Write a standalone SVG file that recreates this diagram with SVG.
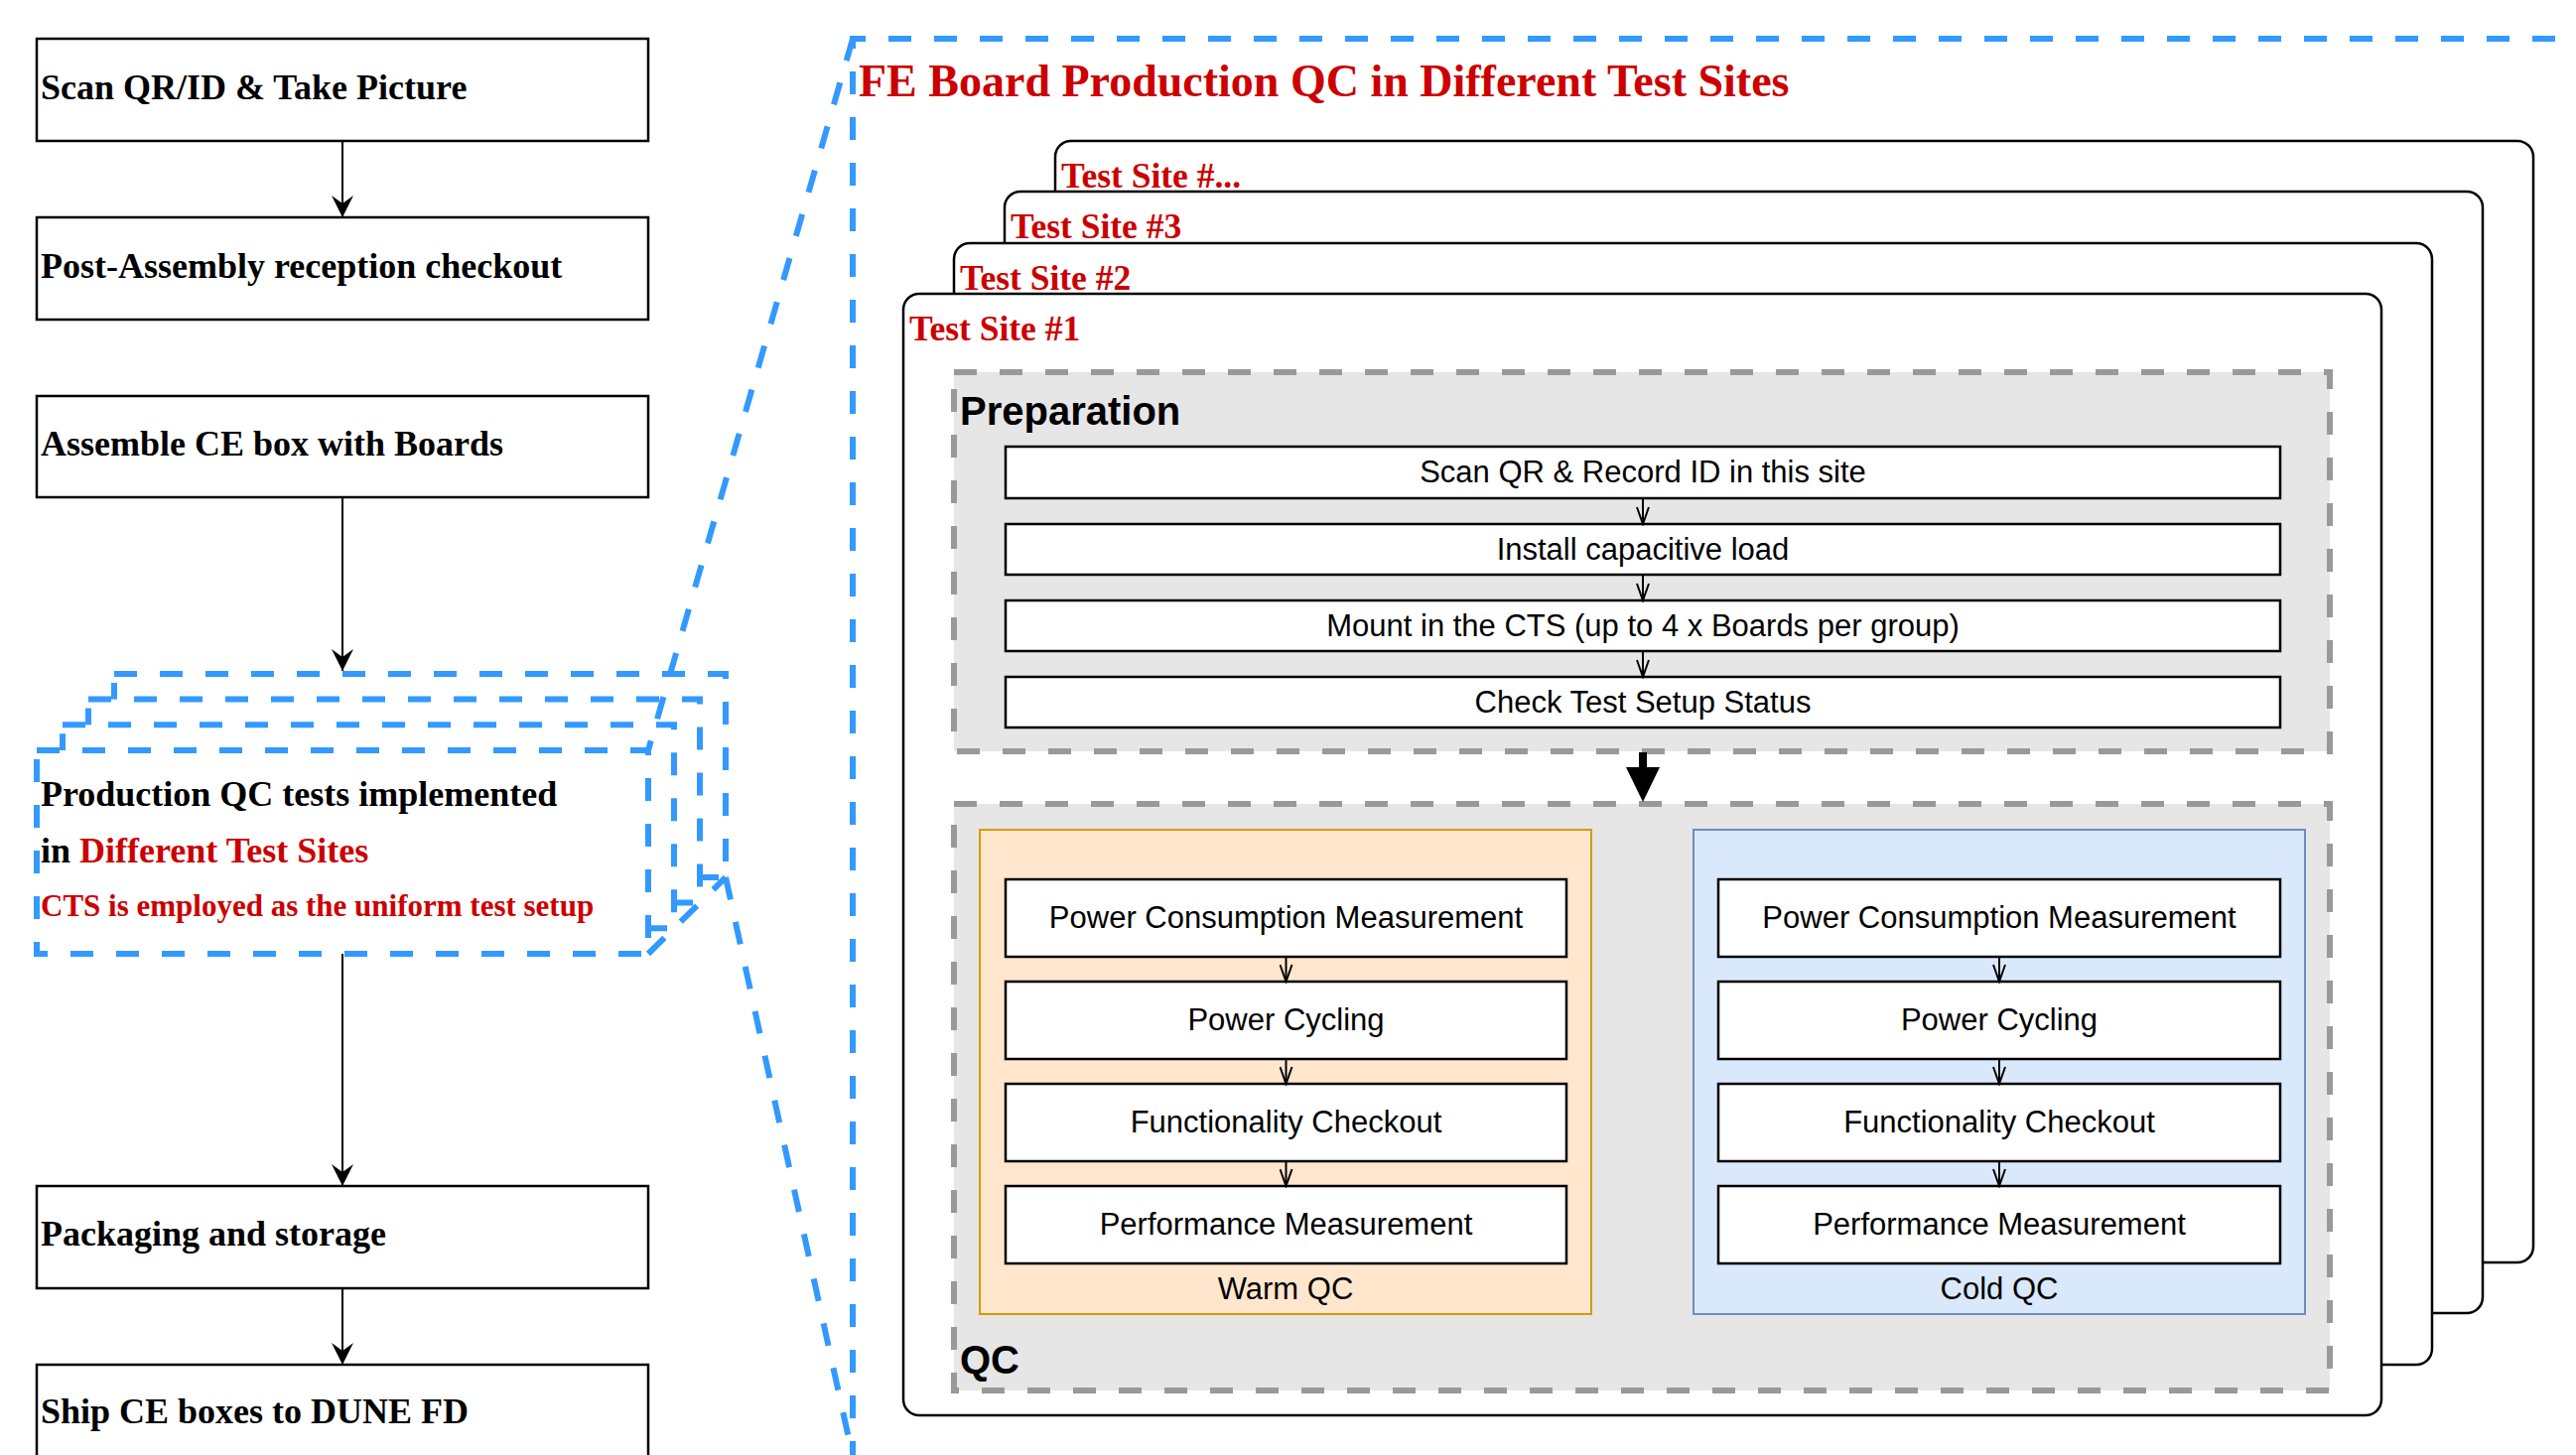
<svg xmlns="http://www.w3.org/2000/svg" width="2595" height="1466" viewBox="0 0 2595 1466">
<style>
.bg{fill:#ffffff}
.box{fill:#ffffff;stroke:#000000;stroke-width:2.5}
.serif{font-family:"Liberation Serif","Times New Roman",serif;font-weight:bold}
.lt{font-size:36px;fill:#000000}
.red{fill:#CC0000}
.site{font-size:35.5px;fill:#CC0000}
.frame{fill:#ffffff;stroke:#000000;stroke-width:2.5}
.blue{fill:none;stroke:#3399FF;stroke-width:6;stroke-dasharray:23 23}
.bluebox{fill:#ffffff;stroke:#3399FF;stroke-width:6;stroke-dasharray:23 23}
.gray{fill:#E6E6E6;stroke:#999999;stroke-width:6;stroke-dasharray:23 23}
.sans{font-family:"Liberation Sans",Arial,Helvetica,sans-serif}
.st{font-size:31px;fill:#000000;text-anchor:middle}
.hd{font-size:40px;font-weight:bold;fill:#000000}
.conn{fill:none;stroke:#000000;stroke-width:2}
.thin{fill:none;stroke:#000000;stroke-width:2}
</style>
<defs>
<marker id="classic" markerUnits="userSpaceOnUse" viewBox="0 0 22 22" markerWidth="22" markerHeight="22" refX="22" refY="11" orient="auto">
<path d="M0,0 L22,11 L0,22 L8,11 Z" fill="#000000"/>
</marker>
<marker id="open" markerUnits="userSpaceOnUse" viewBox="0 0 20 14" markerWidth="20" markerHeight="14" refX="18" refY="7" orient="auto">
<path d="M1,1 L18,7 L1,13" fill="none" stroke="#000000" stroke-width="2"/>
</marker>
</defs>
<rect class="bg" x="0" y="0" width="2595" height="1466"/>

<!-- Left flow -->
<g id="node-scan">
<rect class="box" x="37" y="39" width="616" height="103"/>
<text class="serif lt" x="41" y="100">Scan QR/ID &amp; Take Picture</text>
</g>
<g id="node-post">
<rect class="box" x="37" y="219" width="616" height="103"/>
<text class="serif lt" x="41" y="280">Post-Assembly reception checkout</text>
</g>
<g id="node-assemble">
<rect class="box" x="37" y="399" width="616" height="102"/>
<text class="serif lt" x="41" y="459">Assemble CE box with Boards</text>
</g>
<g id="node-production">
<rect class="bluebox" x="115" y="679" width="616" height="205"/>
<rect class="bluebox" x="89" y="704.6" width="616" height="205"/>
<rect class="bluebox" x="63" y="730.3" width="616" height="205"/>
<rect class="bluebox" x="37" y="756" width="616" height="205"/>
<line class="blue" x1="653" y1="961" x2="731" y2="884"/>
<text class="serif lt" x="41" y="812">Production QC tests implemented</text>
<text class="serif lt" x="41" y="869">in <tspan class="red">Different Test Sites</tspan></text>
<text class="serif red" style="font-size:31px" x="41" y="923">CTS is employed as the uniform test setup</text>
</g>
<g id="node-packaging">
<rect class="box" x="37" y="1195" width="616" height="103"/>
<text class="serif lt" x="41" y="1255">Packaging and storage</text>
</g>
<g id="node-ship">
<rect class="box" x="37" y="1375" width="616" height="103"/>
<text class="serif lt" x="41" y="1434">Ship CE boxes to DUNE FD</text>
</g>

<!-- Test site frames -->
<g id="site-more">
<rect class="frame" x="1063" y="142" width="1489" height="1130" rx="16" ry="16"/>
<text class="serif site" x="1069" y="189">Test Site #...</text>
</g>
<g id="site-3">
<rect class="frame" x="1012" y="193" width="1489" height="1130" rx="16" ry="16"/>
<text class="serif site" x="1018" y="240">Test Site #3</text>
</g>
<g id="site-2">
<rect class="frame" x="961" y="245" width="1489" height="1130" rx="16" ry="16"/>
<text class="serif site" x="967" y="292">Test Site #2</text>
</g>
<g id="site-1">
<rect class="frame" x="910" y="296" width="1489" height="1130" rx="16" ry="16"/>
<text class="serif site" x="916" y="343">Test Site #1</text>
</g>

<!-- Preparation -->
<g id="preparation">
<rect class="gray" x="961" y="375" width="1386" height="382"/>
<text class="sans hd" x="967" y="428">Preparation</text>
</g>
<g id="prep-1">
<rect class="box" x="1013" y="450" width="1284" height="52"/>
<text class="sans st" x="1655" y="486">Scan QR &amp; Record ID in this site</text>
</g>
<g id="prep-2">
<rect class="box" x="1013" y="528" width="1284" height="51"/>
<text class="sans st" x="1655" y="564">Install capacitive load</text>
</g>
<g id="prep-3">
<rect class="box" x="1013" y="605" width="1284" height="51"/>
<text class="sans st" x="1655" y="641">Mount in the CTS (up to 4 x Boards per group)</text>
</g>
<g id="prep-4">
<rect class="box" x="1013" y="682" width="1284" height="51"/>
<text class="sans st" x="1655" y="718">Check Test Setup Status</text>
</g>

<!-- QC -->
<g id="qc">
<rect class="gray" x="961" y="810" width="1386" height="591"/>
<text class="sans hd" x="967" y="1384">QC</text>
</g>
<g id="warm-qc">
<rect x="987" y="836" width="616" height="488" fill="#FFE6CC" stroke="#D79B00" stroke-width="2"/>
<text class="sans st" x="1295" y="1309">Warm QC</text>
</g>
<g id="cold-qc">
<rect x="1706" y="836" width="616" height="488" fill="#DAE8FC" stroke="#6C8EBF" stroke-width="2"/>
<text class="sans st" x="2014" y="1309">Cold QC</text>
</g>
<g id="warm-1"><rect class="box" x="1013" y="886" width="565" height="78"/><text class="sans st" x="1295.5" y="935">Power Consumption Measurement</text></g>
<g id="warm-2"><rect class="box" x="1013" y="989" width="565" height="78"/><text class="sans st" x="1295.5" y="1038">Power Cycling</text></g>
<g id="warm-3"><rect class="box" x="1013" y="1092" width="565" height="78"/><text class="sans st" x="1295.5" y="1141">Functionality Checkout</text></g>
<g id="warm-4"><rect class="box" x="1013" y="1195" width="565" height="78"/><text class="sans st" x="1295.5" y="1244">Performance Measurement</text></g>
<g id="cold-1"><rect class="box" x="1731" y="886" width="566" height="78"/><text class="sans st" x="2014" y="935">Power Consumption Measurement</text></g>
<g id="cold-2"><rect class="box" x="1731" y="989" width="566" height="78"/><text class="sans st" x="2014" y="1038">Power Cycling</text></g>
<g id="cold-3"><rect class="box" x="1731" y="1092" width="566" height="78"/><text class="sans st" x="2014" y="1141">Functionality Checkout</text></g>
<g id="cold-4"><rect class="box" x="1731" y="1195" width="566" height="78"/><text class="sans st" x="2014" y="1244">Performance Measurement</text></g>

<!-- Title frame -->
<g id="detail-frame">
<path class="blue" d="M2620,39 H859 V1490"/>
<text class="serif" style="font-size:46px;fill:#CC0000" x="865" y="97">FE Board Production QC in Different Test Sites</text>
</g>

<!-- Connectors -->
<g id="connectors">
<line class="conn" x1="345" y1="142" x2="345" y2="219" marker-end="url(#classic)"/>
<line class="conn" x1="345" y1="501" x2="345" y2="676" marker-end="url(#classic)"/>
<line class="conn" x1="345" y1="961" x2="345" y2="1195" marker-end="url(#classic)"/>
<line class="conn" x1="345" y1="1298" x2="345" y2="1375" marker-end="url(#classic)"/>
<line class="thin" x1="1655" y1="502" x2="1655" y2="528" marker-end="url(#open)"/>
<line class="thin" x1="1655" y1="579" x2="1655" y2="605" marker-end="url(#open)"/>
<line class="thin" x1="1655" y1="656" x2="1655" y2="682" marker-end="url(#open)"/>
<path d="M1651,758 H1659 V773 H1672 L1655,808 L1638,773 H1651 Z" fill="#000000"/>
<line class="thin" x1="1295.5" y1="964" x2="1295.5" y2="989" marker-end="url(#open)"/>
<line class="thin" x1="1295.5" y1="1067" x2="1295.5" y2="1092" marker-end="url(#open)"/>
<line class="thin" x1="1295.5" y1="1170" x2="1295.5" y2="1195" marker-end="url(#open)"/>
<line class="thin" x1="2014" y1="964" x2="2014" y2="989" marker-end="url(#open)"/>
<line class="thin" x1="2014" y1="1067" x2="2014" y2="1092" marker-end="url(#open)"/>
<line class="thin" x1="2014" y1="1170" x2="2014" y2="1195" marker-end="url(#open)"/>
<line class="blue" x1="859" y1="39" x2="653" y2="756"/>
<line class="blue" x1="731" y1="884" x2="860" y2="1472"/>
</g>
</svg>
